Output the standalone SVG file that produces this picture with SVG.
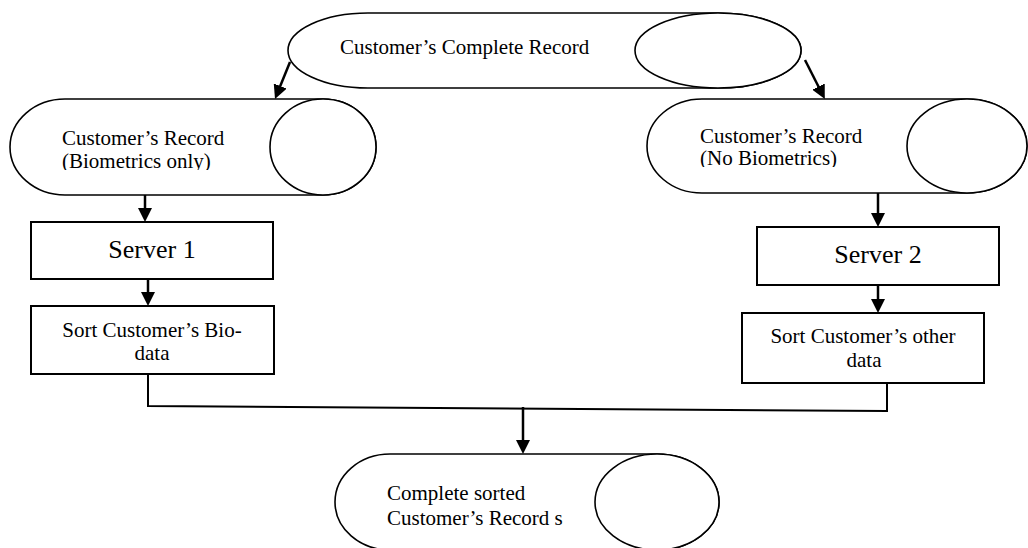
<svg xmlns="http://www.w3.org/2000/svg" width="1028" height="548" viewBox="0 0 1028 548">
<style>
.shape{fill:#fff;stroke:#000;stroke-width:1.6}
.box{fill:#fff;stroke:#000;stroke-width:2}
.t{font-family:"Liberation Serif","Times New Roman",serif;font-size:21px;fill:#000}
.big{font-size:26px}
.conn{fill:none;stroke:#000;stroke-width:2.5}
.plain{fill:none;stroke:#000;stroke-width:2}
</style>
<defs>
<marker id="ah" viewBox="0 0 14 14" refX="10" refY="7" markerWidth="14" markerHeight="14" markerUnits="userSpaceOnUse" orient="auto">
<path d="M0,0 L14,7 L0,14 Z" fill="#000"/>
</marker>
<clipPath id="clipL"><rect x="0" y="0" width="1028" height="170"/></clipPath>
<clipPath id="clipR"><rect x="0" y="0" width="1028" height="167"/></clipPath>
</defs>

<g id="top-record">
<path class="shape" d="M368,13 L718,13 A83,37.5 0 0 1 718,88 L368,88 A80,37.5 0 0 1 368,13 Z"/>
<ellipse class="shape" cx="718" cy="50.5" rx="83" ry="37.5"/>
<text class="t" x="340" y="54">Customer’s Complete Record</text>
</g>

<g id="left-record">
<path class="shape" d="M65,99 L323,99 A53,48 0 0 1 323,195 L65,195 A55,48 0 0 1 65,99 Z"/>
<ellipse class="shape" cx="323" cy="147" rx="53" ry="48"/>
<text class="t" x="62" y="145">Customer’s Record</text>
<text class="t" x="62" y="168" clip-path="url(#clipL)">(Biometrics only)</text>
</g>

<g id="right-record">
<path class="shape" d="M702,99 L967,99 A60,47 0 0 1 967,193 L702,193 A55,47 0 0 1 702,99 Z"/>
<ellipse class="shape" cx="967" cy="146" rx="60" ry="47"/>
<text class="t" x="700" y="143">Customer’s Record</text>
<text class="t" x="700" y="165" clip-path="url(#clipR)">(No Biometrics)</text>
</g>

<g id="server1">
<rect class="box" x="31" y="222" width="242" height="57"/>
<text class="t big" x="152" y="258" text-anchor="middle">Server 1</text>
</g>

<g id="sort1">
<rect class="box" x="31" y="306" width="243" height="68"/>
<text class="t" x="152" y="337" text-anchor="middle">Sort Customer’s Bio-</text>
<text class="t" x="152" y="360" text-anchor="middle">data</text>
</g>

<g id="server2">
<rect class="box" x="757" y="227" width="242" height="58"/>
<text class="t big" x="878" y="263" text-anchor="middle">Server 2</text>
</g>

<g id="sort2">
<rect class="box" x="742" y="313" width="242" height="70"/>
<text class="t" x="863" y="343" text-anchor="middle">Sort Customer’s other</text>
<text class="t" x="864" y="367" text-anchor="middle">data</text>
</g>

<g id="bottom-record">
<path class="shape" d="M390,454 L657,454 A62,48 0 0 1 657,550 L390,550 A55,48 0 0 1 390,454 Z"/>
<ellipse class="shape" cx="657" cy="502" rx="62" ry="48"/>
<text class="t" x="387" y="500">Complete sorted</text>
<text class="t" x="387" y="525">Customer’s Record s</text>
</g>

<g id="connectors">
<line class="conn" x1="290" y1="62" x2="276.5" y2="95.3" marker-end="url(#ah)"/>
<line class="conn" x1="805" y1="60" x2="823" y2="95.5" marker-end="url(#ah)"/>
<line class="conn" x1="145" y1="195" x2="145" y2="218" marker-end="url(#ah)"/>
<line class="conn" x1="148" y1="279" x2="148" y2="302" marker-end="url(#ah)"/>
<line class="conn" x1="878" y1="193" x2="878" y2="223" marker-end="url(#ah)"/>
<line class="conn" x1="878" y1="285" x2="878" y2="309" marker-end="url(#ah)"/>
<polyline class="plain" points="148,374 148,406 887,411 887,383"/>
<line class="conn" x1="523" y1="407" x2="523" y2="450" marker-end="url(#ah)"/>
</g>
</svg>
